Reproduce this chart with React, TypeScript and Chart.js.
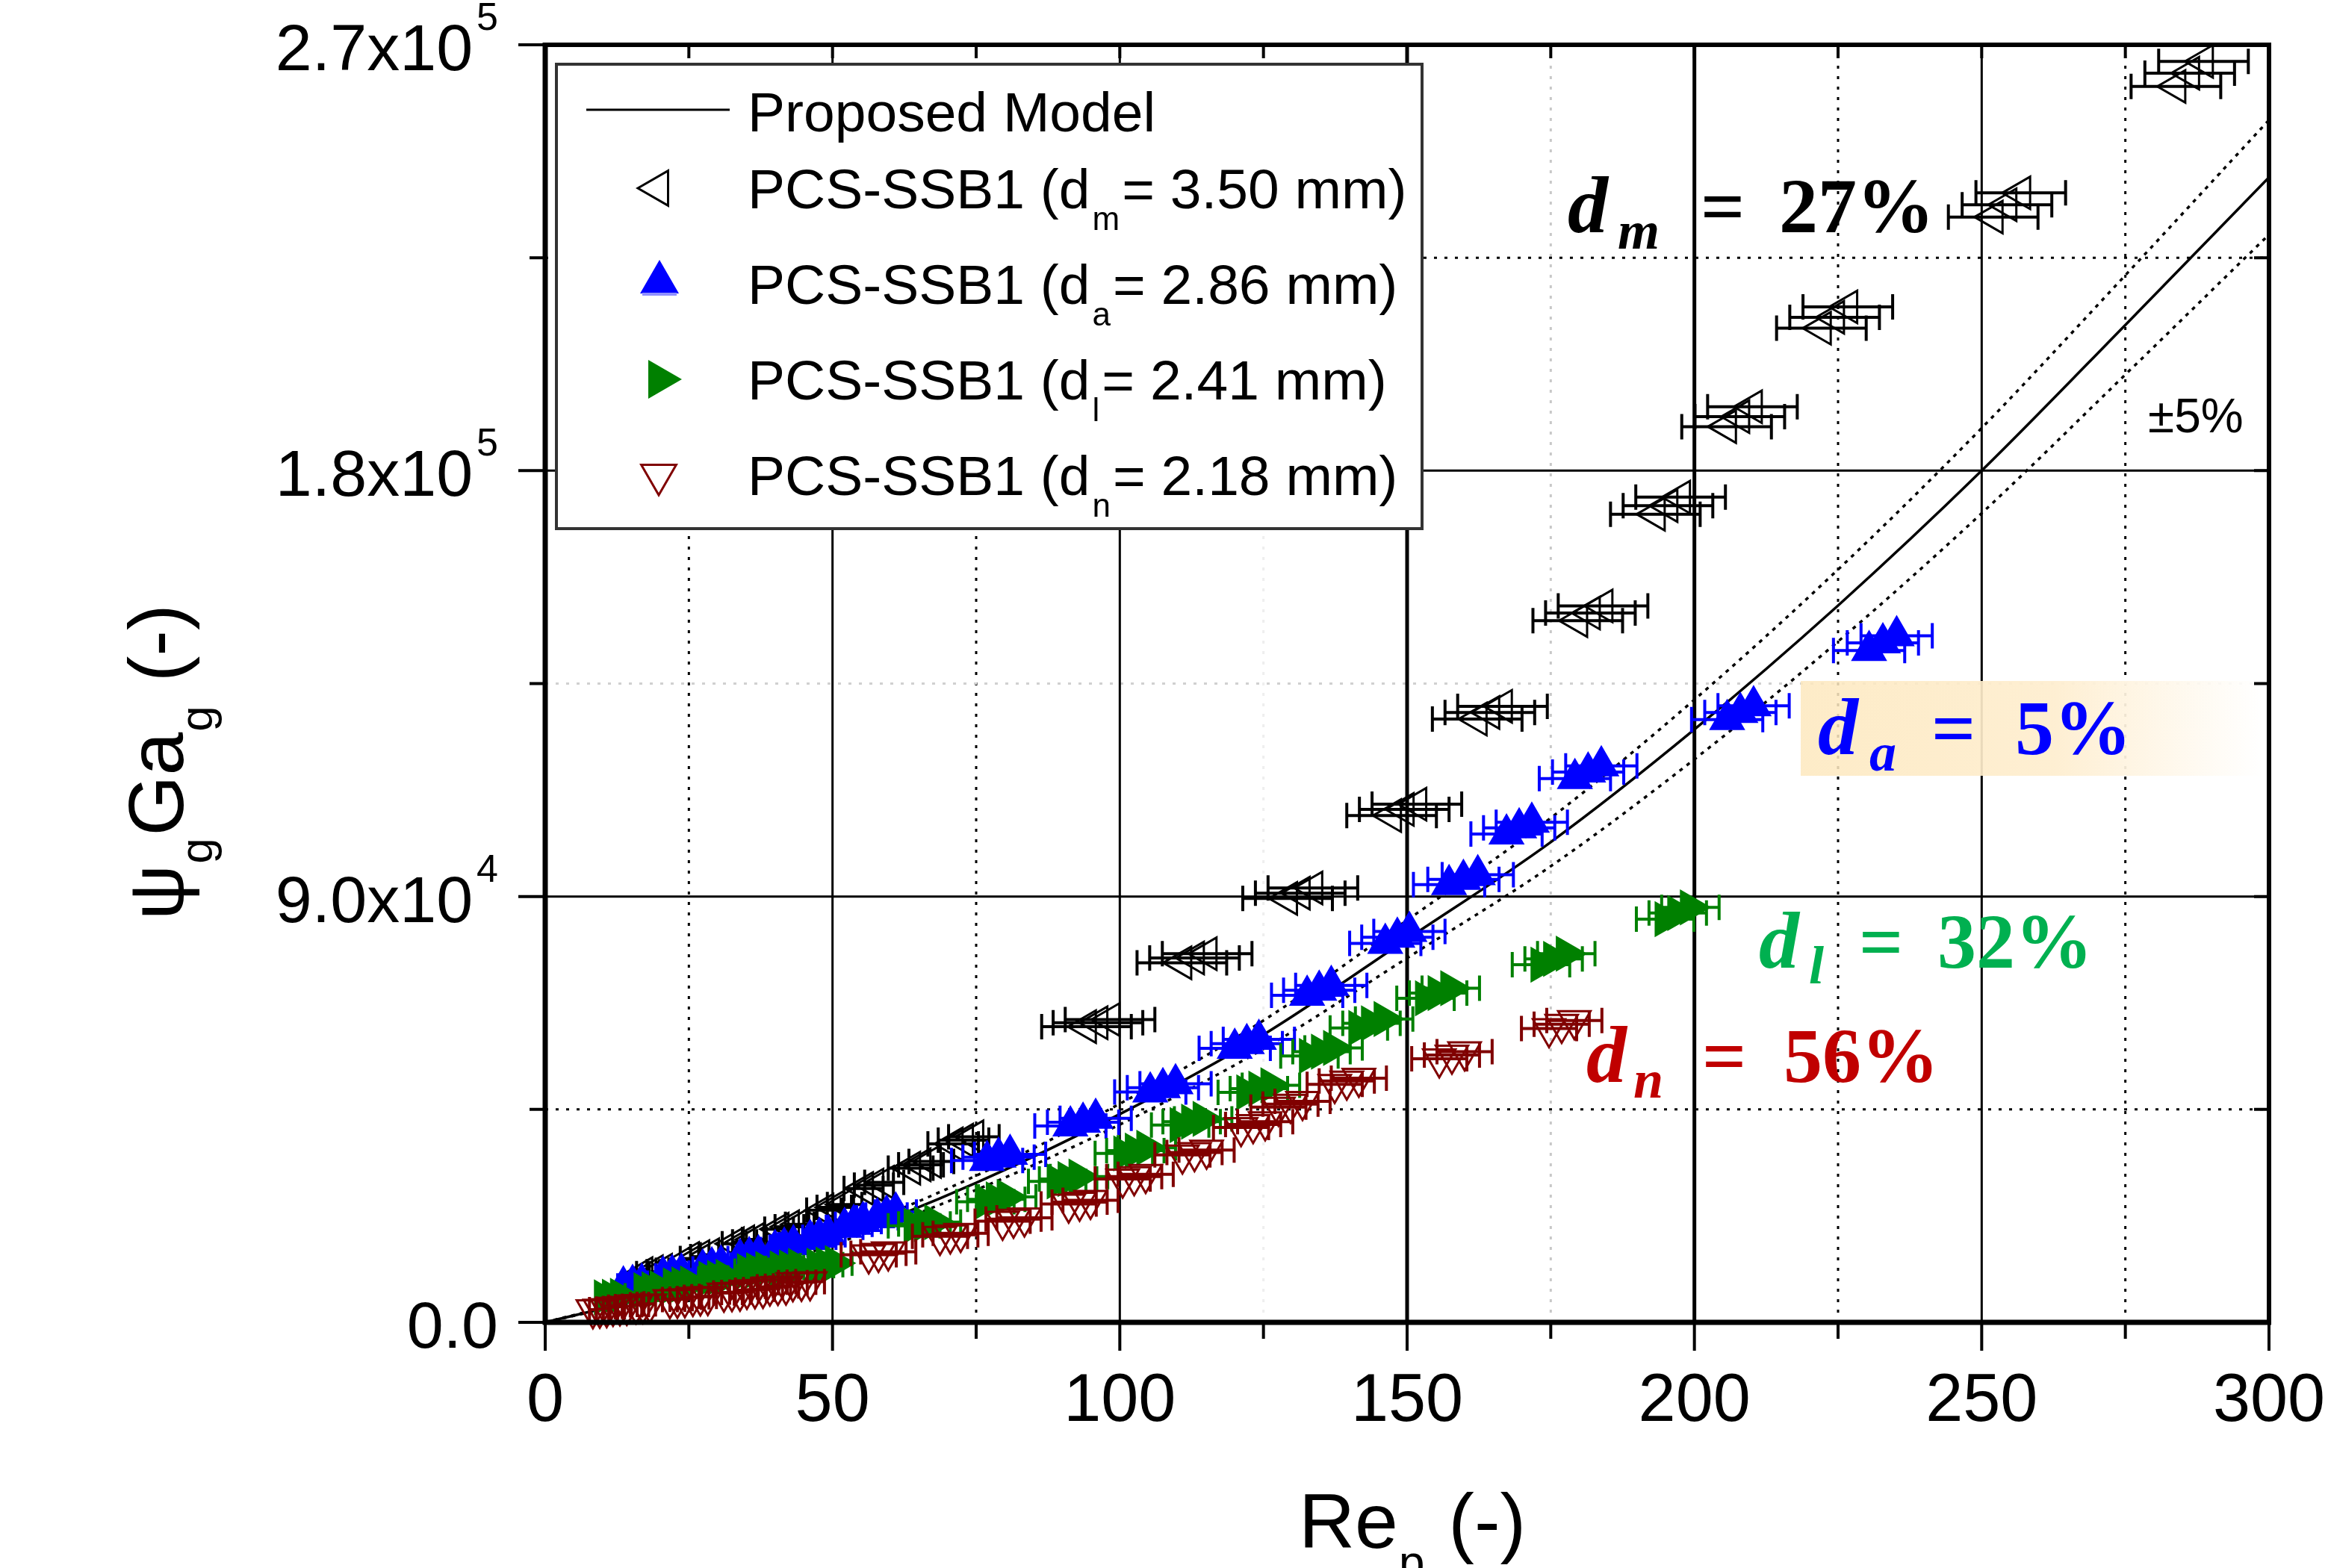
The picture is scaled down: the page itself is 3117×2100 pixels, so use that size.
import React, { useEffect, useRef } from 'react';
import { Chart, registerables } from 'chart.js';

Chart.register(...registerables);

const CANVAS_W = 3117;
const CANVAS_H = 2100;

// ---------- axes / tick labels ----------
const xTickValues = [0, 50, 100, 150, 200, 250, 300];
const xTickLabels = ['0', '50', '100', '150', '200', '250', '300'];
const xMinorTickValues = [25, 75, 125, 175, 225, 275];
const yTickValues = [0, 90000, 180000, 270000];
const yTickMantissas = ['0.0', '9.0x10', '1.8x10', '2.7x10'];
const yTickExponents = ['', '4', '5', '5'];
const yMinorTickValues = [45000, 135000, 225000];

const xTitleParts = ['Re', 'p', ' (-)'];
const xTitleIsSub = [false, true, false];
const yTitleParts = ['\u03C8', 'g', 'Ga', 'g', ' (-)'];
const yTitleIsSub = [false, true, false, true, false];

// ---------- legend labels ----------
const modelLabel = 'Proposed Model';
const seriesLabelHead = ['PCS-SSB1 (d', 'PCS-SSB1 (d', 'PCS-SSB1 (d', 'PCS-SSB1 (d'];
const seriesLabelSub = ['m', 'a', 'l', 'n'];
const seriesLabelTail = ['= 3.50 mm)', '= 2.86 mm)', '= 2.41 mm)', '= 2.18 mm)'];

// ---------- deviation annotations ----------
const deviationSubs = ['m', 'a', 'l', 'n'];
const deviationValues = ['27%', '5%', '32%', '56%'];
const bandLabel = '\u00B15%';

// ---------- proposed model ----------
const modelX = [0, 25, 50, 75, 100, 125, 150, 175, 200, 225, 250, 275, 300];
const modelY = [0, 7500, 17300, 29500, 44000, 60800, 81000, 101500, 125300, 151500, 180000, 210800, 242000];
const modelUpperY = [0, 7900, 18200, 31000, 46200, 63800, 85000, 106600, 131600, 159100, 189000, 221300, 254100];
const modelLowerY = [0, 7100, 16400, 28000, 41800, 57800, 77000, 96400, 119000, 143900, 171000, 200300, 229900];

// ---------- d_m = 3.50 mm ----------
const dmX = [17.0, 18.8, 20.4, 25.1, 26.9, 28.6, 32.9, 34.7, 36.4, 40.7, 42.5, 44.3, 48.5, 50.3, 52.1, 55.4, 57.2, 59.0, 63.6, 65.4, 67.2, 71.0, 72.8, 74.6, 94.2, 96.2, 98.3, 110.8, 113.0, 115.2, 129.2, 131.4, 133.6, 147.3, 149.5, 151.7, 162.2, 164.4, 166.6, 179.7, 181.9, 184.1, 193.2, 195.4, 197.6, 205.6, 207.9, 210.1, 222.1, 224.4, 226.7, 252.0, 254.4, 256.8, 283.8, 286.2, 288.6];
const dmY = [10300, 10700, 11000, 13500, 13900, 14300, 16600, 17000, 17500, 19700, 20200, 20700, 23700, 24300, 24900, 28300, 29000, 29600, 32600, 33300, 34000, 37700, 38500, 39200, 62500, 63300, 64000, 76000, 77000, 77900, 89600, 90700, 91800, 107100, 108400, 109500, 127500, 128900, 130200, 148300, 149900, 151400, 170800, 172600, 174400, 189300, 191400, 193500, 210100, 212400, 214600, 233600, 236200, 238700, 261200, 264000, 266500];
const dmErr = [1.1, 1.1, 1.1, 1.6, 1.6, 1.6, 2.1, 2.1, 2.1, 2.5, 2.5, 2.5, 3.0, 3.0, 3.0, 3.4, 3.4, 3.4, 3.9, 3.9, 3.9, 4.4, 4.4, 4.4, 7.8, 7.8, 7.8, 7.8, 7.8, 7.8, 7.8, 7.8, 7.8, 7.8, 7.8, 7.8, 7.8, 7.8, 7.8, 7.8, 7.8, 7.8, 7.8, 7.8, 7.8, 7.8, 7.8, 7.8, 7.8, 7.8, 7.8, 7.8, 7.8, 7.8, 7.8, 7.8, 7.8];

// ---------- d_a = 2.86 mm ----------
const daX = [13.6, 15.2, 16.8, 20.5, 22.1, 23.7, 27.4, 29.0, 30.6, 33.9, 35.5, 37.1, 40.0, 41.6, 43.2, 46.1, 47.7, 49.3, 52.1, 53.7, 55.3, 57.8, 59.4, 61.0, 76.9, 78.9, 80.9, 91.4, 93.6, 95.8, 105.3, 107.5, 109.7, 120.0, 122.1, 124.2, 132.6, 134.7, 136.8, 146.2, 148.3, 150.4, 157.3, 159.8, 162.3, 167.3, 169.5, 171.7, 179.2, 181.5, 183.8, 205.7, 208.0, 210.3, 230.4, 232.8, 235.2];
const daY = [7700, 8000, 8300, 9800, 10100, 10400, 11300, 11700, 12100, 13500, 13900, 14300, 15400, 15900, 16400, 17500, 18000, 18500, 20100, 20700, 21300, 22100, 22700, 23300, 34200, 34900, 35500, 41500, 42300, 43100, 48700, 49600, 50400, 57900, 58900, 59800, 69100, 70200, 71200, 80100, 81400, 82600, 92500, 93600, 94600, 103200, 104500, 105700, 114900, 116300, 117600, 127400, 128900, 130300, 142000, 143600, 145100];
const daErr = [1.0, 1.0, 1.0, 1.3, 1.3, 1.3, 1.7, 1.7, 1.7, 2.1, 2.1, 2.1, 2.5, 2.5, 2.5, 2.9, 2.9, 2.9, 3.2, 3.2, 3.2, 3.6, 3.6, 3.6, 6.2, 6.2, 6.2, 6.2, 6.2, 6.2, 6.2, 6.2, 6.2, 6.2, 6.2, 6.2, 6.2, 6.2, 6.2, 6.2, 6.2, 6.2, 6.2, 6.2, 6.2, 6.2, 6.2, 6.2, 6.2, 6.2, 6.2, 6.2, 6.2, 6.2, 6.2, 6.2, 6.2];

// ---------- d_l = 2.41 mm ----------
const dlX = [10.3, 11.7, 13.1, 17.2, 18.6, 20.0, 22.3, 23.8, 25.3, 28.5, 30.0, 31.5, 35.2, 36.8, 38.4, 40.9, 42.5, 44.1, 47.3, 48.9, 50.5, 64.2, 66.0, 67.8, 76.6, 78.5, 80.4, 89.1, 91.0, 92.9, 100.7, 102.7, 104.7, 110.5, 112.5, 114.5, 122.1, 124.2, 126.3, 133.0, 135.1, 137.2, 141.6, 143.8, 146.0, 153.2, 155.4, 157.6, 173.3, 175.5, 177.7, 194.9, 197.1, 199.3];
const dlY = [5300, 5400, 5600, 6800, 7000, 7200, 7800, 8000, 8200, 9200, 9400, 9600, 10800, 11000, 11300, 11400, 11600, 11900, 12000, 12200, 12500, 20400, 20800, 21200, 25500, 26000, 26500, 29800, 30300, 30800, 35700, 36300, 36900, 41700, 42400, 43000, 48600, 49400, 50100, 56300, 57200, 58000, 62200, 63200, 64100, 68500, 69600, 70600, 75600, 76800, 77900, 85200, 86500, 87700];
const dlErr = [0.8, 0.8, 0.8, 1.1, 1.1, 1.1, 1.4, 1.4, 1.4, 1.8, 1.8, 1.8, 2.2, 2.2, 2.2, 2.5, 2.5, 2.5, 2.9, 2.9, 2.9, 4.5, 4.5, 4.5, 5.0, 5.0, 5.0, 5.0, 5.0, 5.0, 5.0, 5.0, 5.0, 5.0, 5.0, 5.0, 5.0, 5.0, 5.0, 5.0, 5.0, 5.0, 5.0, 5.0, 5.0, 5.0, 5.0, 5.0, 5.0, 5.0, 5.0, 5.0, 5.0, 5.0];

// ---------- d_n = 2.18 mm ----------
const dnX = [8.3, 9.5, 10.7, 11.8, 13.0, 14.2, 15.8, 17.0, 18.2, 21.7, 23.0, 24.3, 25.7, 27.0, 28.3, 31.1, 32.5, 33.9, 35.1, 36.5, 37.9, 39.1, 40.5, 41.9, 43.1, 44.6, 46.1, 56.3, 58.0, 59.7, 68.7, 70.5, 72.3, 79.6, 81.5, 83.4, 91.1, 93.0, 94.9, 100.5, 102.5, 104.5, 110.9, 113.0, 115.1, 121.1, 123.2, 125.3, 127.6, 129.7, 131.8, 137.4, 139.5, 141.6, 155.6, 157.8, 160.0, 174.7, 176.9, 179.1];
const dnY = [2700, 2800, 2900, 3200, 3300, 3400, 3700, 3800, 3900, 4800, 4900, 5000, 5300, 5400, 5500, 6200, 6300, 6400, 6800, 6900, 7000, 7500, 7600, 7700, 8400, 8500, 8600, 14300, 14600, 14900, 18200, 18500, 18800, 21400, 21800, 22100, 25000, 25400, 25800, 30300, 30800, 31300, 35400, 35900, 36400, 41200, 41800, 42400, 45500, 46100, 46700, 50300, 51000, 51600, 55700, 56500, 57200, 62100, 63000, 63800];
const dnErr = [0.6, 0.6, 0.6, 0.8, 0.8, 0.8, 1.0, 1.0, 1.0, 1.3, 1.3, 1.3, 1.5, 1.5, 1.5, 1.8, 1.8, 1.8, 2.0, 2.0, 2.0, 2.2, 2.2, 2.2, 2.5, 2.5, 2.5, 4.8, 4.8, 4.8, 4.8, 4.8, 4.8, 4.8, 4.8, 4.8, 4.8, 4.8, 4.8, 4.8, 4.8, 4.8, 4.8, 4.8, 4.8, 4.8, 4.8, 4.8, 4.8, 4.8, 4.8, 4.8, 4.8, 4.8, 4.8, 4.8, 4.8, 4.8, 4.8, 4.8];

// ---------- styles ----------
const SANS = '"Liberation Sans", Arial, Helvetica, sans-serif';
const SERIF = '"Liberation Serif", "Times New Roman", serif';
const seriesColors = ['#000000', '#0000ff', '#008000', '#800000'];
const seriesFill = ['rgba(0,0,0,0)', '#0000ff', '#008000', 'rgba(0,0,0,0)'];
const seriesRotation = [-90, 0, 90, 180];
const deviationColors = ['#000000', '#0000ff', '#00b050', '#c00000'];
const deviationLayout = [
  { base: 311, dX: 2099, subX: 2166, subY: 333, eqX: 2277, valX: 2382 },
  { base: 1010, dX: 2434, subX: 2503, subY: 1032, eqX: 2586, valX: 2698 },
  { base: 1296, dX: 2355, subX: 2422, subY: 1317, eqX: 2489, valX: 2594 },
  { base: 1449, dX: 2124, subX: 2187, subY: 1470, eqX: 2279, valX: 2388 },
];
const xMinorGridColors = ['#000000', '#000000', '#eeeeee', '#c8c8c8', '#000000', '#000000'];
const yMinorGridColors = ['#000000', '#d0d0d0', '#000000'];
const xMajorGridWidths = [0, 3, 3, 5, 5, 3, 0];

function toPoints(xs: number[], ys: number[]) {
  return xs.map((x, i) => ({ x, y: ys[i] }));
}

function triangle(ctx: CanvasRenderingContext2D, cx: number, cy: number, r: number, rotDeg: number) {
  const rot = (rotDeg * Math.PI) / 180;
  ctx.beginPath();
  for (let k = 0; k < 3; k++) {
    const a = rot + (k * 2 * Math.PI) / 3;
    const px = cx + Math.sin(a) * r;
    const py = cy - Math.cos(a) * r;
    if (k === 0) ctx.moveTo(px, py);
    else ctx.lineTo(px, py);
  }
  ctx.closePath();
}

function drawParts(ctx: CanvasRenderingContext2D, parts: string[], isSub: boolean[], mainFont: string, subFont: string, subOffset: number) {
  let x = 0;
  parts.forEach((p, i) => {
    ctx.font = isSub[i] ? subFont : mainFont;
    ctx.fillText(p, x, isSub[i] ? subOffset : 0);
    x += ctx.measureText(p).width + (isSub[i] ? 3 : 1);
  });
}

const errorBarPlugin = {
  id: 'errorBars',
  beforeDatasetDraw(chart: any, args: any) {
    const ds = chart.data.datasets[args.index];
    if (!ds.xErr) return;
    const ctx = chart.ctx;
    const xs = chart.scales.x;
    const ys = chart.scales.y;
    ctx.save();
    ctx.strokeStyle = ds.errColor;
    ctx.lineWidth = 4;
    ds.data.forEach((p: any, i: number) => {
      const e = ds.xErr[i];
      const x1 = xs.getPixelForValue(p.x - e);
      const x2 = xs.getPixelForValue(p.x + e);
      const y = ys.getPixelForValue(p.y);
      ctx.beginPath();
      ctx.moveTo(x1, y);
      ctx.lineTo(x2, y);
      ctx.moveTo(x1, y - 17);
      ctx.lineTo(x1, y + 17);
      ctx.moveTo(x2, y - 17);
      ctx.lineTo(x2, y + 17);
      ctx.stroke();
    });
    ctx.restore();
  },
};

const framePlugin = {
  id: 'frame',
  beforeDraw(chart: any) {
    const ctx = chart.ctx;
    ctx.save();
    ctx.fillStyle = '#ffffff';
    ctx.fillRect(0, 0, chart.width, chart.height);
    ctx.restore();
  },
  beforeDatasetsDraw(chart: any) {
    const ctx = chart.ctx;
    const a = chart.chartArea;
    const xs = chart.scales.x;
    const ys = chart.scales.y;
    ctx.save();
    // dotted minor grid
    ctx.lineWidth = 3;
    ctx.setLineDash([4, 10]);
    xMinorTickValues.forEach((v, i) => {
      const px = xs.getPixelForValue(v);
      ctx.strokeStyle = xMinorGridColors[i];
      ctx.beginPath();
      ctx.moveTo(px, a.top);
      ctx.lineTo(px, a.bottom);
      ctx.stroke();
    });
    yMinorTickValues.forEach((v, i) => {
      const py = ys.getPixelForValue(v);
      ctx.strokeStyle = yMinorGridColors[i];
      ctx.beginPath();
      ctx.moveTo(a.left, py);
      ctx.lineTo(a.right, py);
      ctx.stroke();
    });
    // solid major grid
    ctx.setLineDash([]);
    ctx.strokeStyle = '#000000';
    xTickValues.forEach((v, i) => {
      if (!xMajorGridWidths[i]) return;
      const px = xs.getPixelForValue(v);
      ctx.lineWidth = xMajorGridWidths[i];
      ctx.beginPath();
      ctx.moveTo(px, a.top);
      ctx.lineTo(px, a.bottom);
      ctx.stroke();
    });
    ctx.lineWidth = 3;
    yTickValues.forEach((v, i) => {
      if (i === 0 || i === yTickValues.length - 1) return;
      const py = ys.getPixelForValue(v);
      ctx.beginPath();
      ctx.moveTo(a.left, py);
      ctx.lineTo(a.right, py);
      ctx.stroke();
    });
    // highlight behind d_a label
    const g = ctx.createLinearGradient(2411, 0, 3029, 0);
    g.addColorStop(0, 'rgba(253,232,190,0.85)');
    g.addColorStop(0.55, 'rgba(254,238,208,0.95)');
    g.addColorStop(1, 'rgba(255,255,255,0.9)');
    ctx.fillStyle = g;
    ctx.fillRect(2411, 912, 618, 127);
    ctx.restore();
  },
  afterDatasetsDraw(chart: any) {
    const ctx = chart.ctx;
    const a = chart.chartArea;
    const xs = chart.scales.x;
    const ys = chart.scales.y;
    ctx.save();
    ctx.setLineDash([]);
    ctx.strokeStyle = '#000000';
    ctx.fillStyle = '#000000';
    // frame
    ctx.lineWidth = 6;
    ctx.beginPath();
    ctx.moveTo(a.left, a.top);
    ctx.lineTo(a.right, a.top);
    ctx.lineTo(a.right, a.bottom);
    ctx.stroke();
    ctx.lineWidth = 7;
    ctx.beginPath();
    ctx.moveTo(a.left, a.top - 3);
    ctx.lineTo(a.left, a.bottom);
    ctx.lineTo(a.right + 3, a.bottom);
    ctx.stroke();
    // ticks
    ctx.lineWidth = 4;
    ctx.beginPath();
    xTickValues.forEach((v) => {
      const px = xs.getPixelForValue(v);
      ctx.moveTo(px, a.bottom);
      ctx.lineTo(px, a.bottom + 38);
      ctx.moveTo(px, a.top);
      ctx.lineTo(px, a.top + 18);
    });
    xMinorTickValues.forEach((v) => {
      const px = xs.getPixelForValue(v);
      ctx.moveTo(px, a.bottom);
      ctx.lineTo(px, a.bottom + 22);
      ctx.moveTo(px, a.top);
      ctx.lineTo(px, a.top + 18);
    });
    yTickValues.forEach((v) => {
      const py = ys.getPixelForValue(v);
      ctx.moveTo(a.left, py);
      ctx.lineTo(a.left - 36, py);
      ctx.moveTo(a.right, py);
      ctx.lineTo(a.right - 20, py);
    });
    yMinorTickValues.forEach((v) => {
      const py = ys.getPixelForValue(v);
      ctx.moveTo(a.left, py);
      ctx.lineTo(a.left - 21, py);
      ctx.moveTo(a.right, py);
      ctx.lineTo(a.right - 20, py);
    });
    ctx.stroke();

    // x tick labels
    ctx.font = `90px ${SANS}`;
    ctx.textAlign = 'center';
    ctx.textBaseline = 'alphabetic';
    xTickValues.forEach((v, i) => {
      ctx.fillText(xTickLabels[i], xs.getPixelForValue(v), a.bottom + 132);
    });
    // y tick labels with superscript exponents
    yTickValues.forEach((v, i) => {
      const py = ys.getPixelForValue(v);
      const right = a.left - 63;
      ctx.font = `52px ${SANS}`;
      const ew = yTickExponents[i] ? ctx.measureText(yTickExponents[i]).width : 0;
      ctx.textAlign = 'left';
      if (yTickExponents[i]) ctx.fillText(yTickExponents[i], right - ew, py - 20);
      ctx.font = `88px ${SANS}`;
      ctx.textAlign = 'right';
      ctx.fillText(yTickMantissas[i], right - (ew ? ew + 5 : 0), py + 34);
    });

    // axis titles
    ctx.textAlign = 'left';
    ctx.save();
    ctx.translate(1739, 2073);
    drawParts(ctx, xTitleParts, xTitleIsSub, `104px ${SANS}`, `62px ${SANS}`, 40);
    ctx.restore();
    ctx.save();
    ctx.translate(245, 1232);
    ctx.rotate(-Math.PI / 2);
    drawParts(ctx, yTitleParts, yTitleIsSub, `104px ${SANS}`, `62px ${SANS}`, 39);
    ctx.restore();

    // legend
    ctx.fillStyle = '#ffffff';
    ctx.fillRect(745, 86, 1159, 622);
    ctx.lineWidth = 4;
    ctx.strokeStyle = '#333333';
    ctx.strokeRect(745, 86, 1159, 622);
    ctx.strokeStyle = '#000000';
    ctx.lineWidth = 3;
    ctx.beginPath();
    ctx.moveTo(785, 147);
    ctx.lineTo(977, 147);
    ctx.stroke();
    ctx.fillStyle = '#000000';
    ctx.font = `75px ${SANS}`;
    ctx.fillText(modelLabel, 1001, 176);
    const rowBase = [279, 407, 535, 663];
    const markerCenters = [
      [881, 252],
      [883, 378],
      [883, 508],
      [882, 636],
    ];
    for (let i = 0; i < 4; i++) {
      const [mx, my] = markerCenters[i];
      triangle(ctx, mx, my, 27, seriesRotation[i]);
      if (seriesFill[i] !== 'rgba(0,0,0,0)') {
        ctx.fillStyle = seriesFill[i];
        ctx.fill();
      }
      ctx.strokeStyle = seriesColors[i];
      ctx.lineWidth = 3;
      ctx.stroke();
      if (i === 1) {
        ctx.strokeStyle = '#9090ff';
        ctx.lineWidth = 4;
        ctx.beginPath();
        ctx.moveTo(mx - 23, my + 16);
        ctx.lineTo(mx + 23, my + 16);
        ctx.stroke();
      }
      ctx.fillStyle = '#000000';
      let x = 1001;
      ctx.font = `75px ${SANS}`;
      ctx.fillText(seriesLabelHead[i], x, rowBase[i]);
      x += ctx.measureText(seriesLabelHead[i]).width + 3;
      ctx.font = `44px ${SANS}`;
      ctx.fillText(seriesLabelSub[i], x, rowBase[i] + 29);
      x += ctx.measureText(seriesLabelSub[i]).width + 3;
      ctx.font = `75px ${SANS}`;
      ctx.fillText(seriesLabelTail[i], x, rowBase[i]);
    }

    // deviation annotations
    for (let i = 0; i < 4; i++) {
      const L = deviationLayout[i];
      ctx.fillStyle = deviationColors[i];
      ctx.font = `bold italic 108px ${SERIF}`;
      ctx.fillText('d', L.dX, L.base);
      ctx.font = `bold italic 72px ${SERIF}`;
      ctx.fillText(deviationSubs[i], L.subX, L.subY);
      ctx.font = `bold 104px ${SERIF}`;
      ctx.fillText('=', L.eqX, L.base);
      ctx.fillText(deviationValues[i], L.valX, L.base);
    }
    ctx.fillStyle = '#000000';
    ctx.font = `64px ${SANS}`;
    ctx.fillText(bandLabel, 2876, 579);
    ctx.restore();
  },
};

export default function App() {
  const ref = useRef<HTMLCanvasElement | null>(null);
  useEffect(() => {
    const canvas = ref.current;
    if (!canvas) return;
    const markerSet = (label: string, xs: number[], ys: number[], errs: number[], i: number, order: number) => ({
      label,
      data: toPoints(xs, ys),
      xErr: errs,
      errColor: seriesColors[i],
      showLine: false,
      pointStyle: 'triangle',
      pointRotation: seriesRotation[i],
      pointRadius: 25,
      pointBorderWidth: 3,
      pointBorderColor: seriesColors[i],
      pointBackgroundColor: seriesFill[i],
      order,
      clip: 20,
    });
    const chart = new Chart(canvas, {
      type: 'scatter',
      data: {
        datasets: [
          {
            label: 'Proposed Model',
            data: toPoints(modelX, modelY),
            showLine: true,
            borderColor: '#000000',
            borderWidth: 3.5,
            pointRadius: 0,
            cubicInterpolationMode: 'monotone',
            order: 7,
          } as any,
          {
            label: '+5%',
            data: toPoints(modelX, modelUpperY),
            showLine: true,
            borderColor: '#000000',
            borderWidth: 3.5,
            borderDash: [5, 7],
            pointRadius: 0,
            cubicInterpolationMode: 'monotone',
            order: 6,
          } as any,
          {
            label: '-5%',
            data: toPoints(modelX, modelLowerY),
            showLine: true,
            borderColor: '#000000',
            borderWidth: 3.5,
            borderDash: [5, 7],
            pointRadius: 0,
            cubicInterpolationMode: 'monotone',
            order: 5,
          } as any,
          markerSet('PCS-SSB1 (dm = 3.50 mm)', dmX, dmY, dmErr, 0, 4) as any,
          markerSet('PCS-SSB1 (da = 2.86 mm)', daX, daY, daErr, 1, 3) as any,
          markerSet('PCS-SSB1 (dl = 2.41 mm)', dlX, dlY, dlErr, 2, 2) as any,
          markerSet('PCS-SSB1 (dn = 2.18 mm)', dnX, dnY, dnErr, 3, 1) as any,
        ],
      },
      options: {
        animation: false,
        responsive: false,
        devicePixelRatio: 1,
        events: [],
        layout: { padding: { left: 730, right: 79, top: 60, bottom: 329 } },
        plugins: {
          legend: { display: false },
          tooltip: { enabled: false },
          title: { display: false },
        },
        scales: {
          x: { type: 'linear', min: 0, max: 300, display: false },
          y: { type: 'linear', min: 0, max: 270000, display: false },
        },
      } as any,
      plugins: [framePlugin, errorBarPlugin] as any,
    });
    return () => chart.destroy();
  }, []);
  return (
    <div style={{ position: 'fixed', left: 0, top: 0, width: CANVAS_W, height: CANVAS_H, background: '#ffffff' }}>
      <canvas ref={ref} width={CANVAS_W} height={CANVAS_H} style={{ width: CANVAS_W, height: CANVAS_H, display: 'block' }} />
    </div>
  );
}
